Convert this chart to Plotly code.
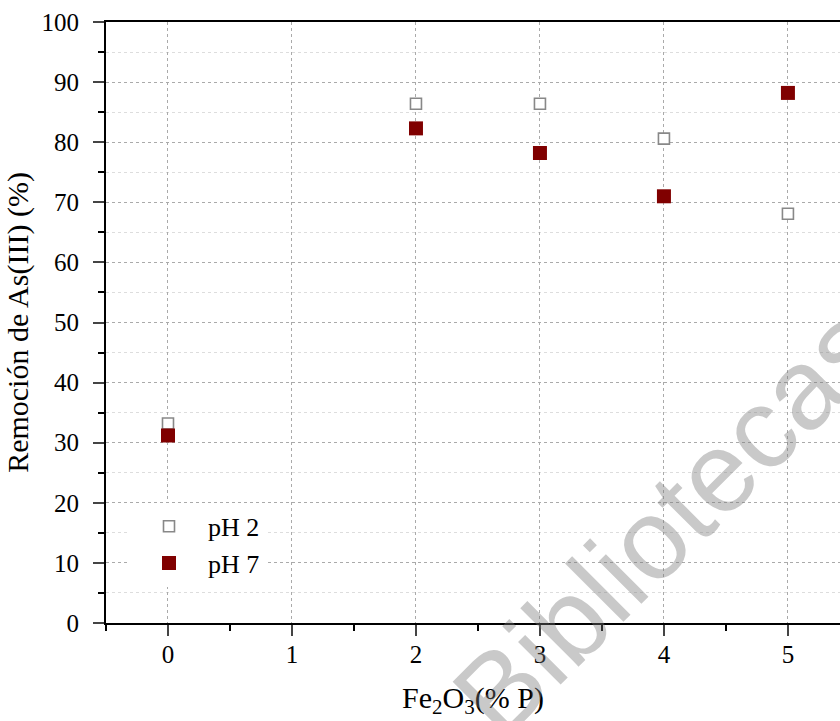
import plotly.graph_objects as go

x_vals = [0, 2, 3, 4, 5]
ph2 = [33.2, 86.4, 86.4, 80.6, 68.1]
ph7 = [31.2, 82.3, 78.2, 71.0, 88.2]
series_names = ["pH 2", "pH 7"]
x_ticks = [0, 1, 2, 3, 4, 5]
y_ticks = [0, 10, 20, 30, 40, 50, 60, 70, 80, 90, 100]

FONT = "Liberation Serif"

fig = go.Figure()
fig.add_trace(go.Scatter(
    x=x_vals, y=ph2, mode="markers", name=series_names[0],
    marker=dict(symbol="square", size=11, color="white",
                line=dict(color="#888888", width=1.6)),
))
fig.add_trace(go.Scatter(
    x=x_vals, y=ph7, mode="markers", name=series_names[1],
    marker=dict(symbol="square", size=14, color="#800000",
                line=dict(color="#800000", width=0)),
))

fig.add_annotation(
    text="Bibliotecas", x=0.767, y=0.17, xref="paper", yref="paper",
    xanchor="center", yanchor="middle",
    showarrow=False, textangle=-45,
    font=dict(family="Liberation Sans", size=114, color="rgba(120,120,120,0.4)"),
)

fig.update_layout(
    width=840, height=721,
    margin=dict(l=106, r=0, t=22, b=98),
    paper_bgcolor="white", plot_bgcolor="white",
    font=dict(family=FONT, size=25, color="black"),
    showlegend=True,
    legend=dict(x=0.0327, y=0.2, xanchor="left", yanchor="top",
                bgcolor="white", borderwidth=0, itemwidth=68,
                font=dict(family=FONT, size=26)),
    xaxis=dict(
        range=[-0.5, 5.42], tickvals=x_ticks, ticks="outside", ticklen=11,
        tickwidth=2, showline=True, linewidth=2, linecolor="black", mirror=True,
        showgrid=True, gridcolor="#aaaaaa", griddash="dot", gridwidth=1,
        zeroline=False, ticklabelstandoff=-3,
        tickfont=dict(family=FONT, size=25),
        minor=dict(dtick=0.5, ticks="outside", ticklen=6, tickwidth=2,
                   tickcolor="black", showgrid=False),
        title=dict(text="Fe<sub>2</sub>O<sub>3</sub>(% P)", standoff=20,
                   font=dict(family=FONT, size=30)),
    ),
    yaxis=dict(
        range=[0, 100], tickvals=y_ticks, ticks="outside", ticklen=11,
        tickwidth=2, showline=True, linewidth=2, linecolor="black", mirror=False,
        showgrid=True, gridcolor="#aaaaaa", griddash="dot", gridwidth=1,
        zeroline=False, ticklabelstandoff=9,
        tickfont=dict(family=FONT, size=25),
        minor=dict(dtick=5, ticks="outside", ticklen=6, tickwidth=2,
                   tickcolor="black", showgrid=True, gridcolor="#dddddd",
                   griddash="dot", gridwidth=1),
        title=dict(text="Remoción de As(III) (%)", standoff=4,
                   font=dict(family=FONT, size=30)),
    ),
)

fig.write_html("out.html")
